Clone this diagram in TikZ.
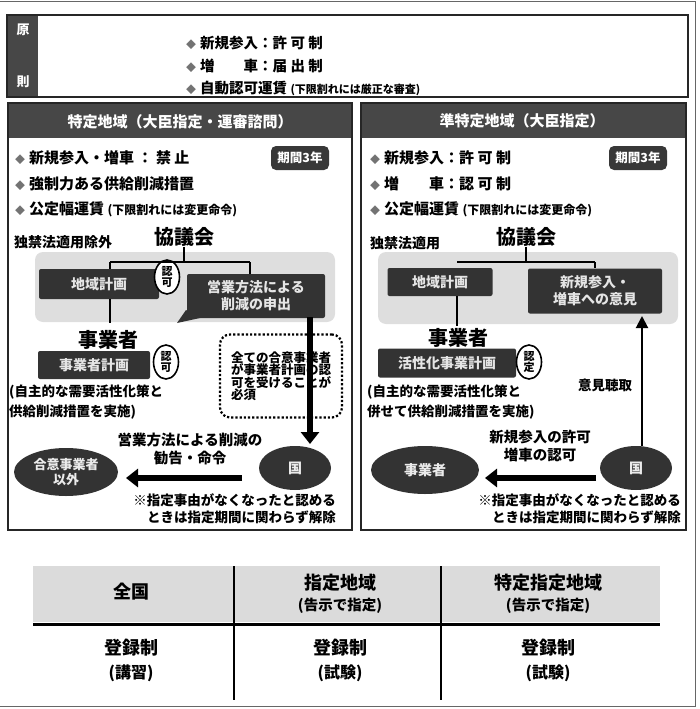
\documentclass[tikz,border=0pt]{standalone}
\usepackage{fontspec}
\setmainfont{Noto Sans CJK JP}
\usetikzlibrary{shapes.geometric,arrows.meta,calc}
\newcommand{\myfs}[1]{\fontsize{#1}{#1}\selectfont}
\newcommand{\dia}{{\color{black!55}\myfs{10}◆}\hspace{4pt}}
\tikzset{
  darkbox/.style={fill=black!80, text=black!10, rounded corners=2pt, inner sep=2pt, align=center, font=\bfseries\myfs{14}},
  hdrbar/.style={fill=black!72},
  badge/.style={fill=black!78, text=white, rounded corners=5pt, minimum width=58pt, minimum height=24pt, inner sep=1pt, font=\bfseries\myfs{12.5}},
  ovalmark/.style={draw, line width=1.6pt, fill=white, ellipse, inner sep=0pt, minimum width=25pt, minimum height=34pt, align=center, font=\bfseries\myfs{11}},
  darkell/.style={ellipse, fill=black!80, text=black!8, align=center, inner sep=0pt, font=\bfseries\myfs{14}},
  bigarrow/.style={line width=6pt, -{Triangle[length=12pt,width=18pt]}},
  thinarrow/.style={line width=2pt, -{Triangle[length=12pt,width=12pt]}},
  conn/.style={line width=1.6pt},
  frame/.style={line width=1.2pt, draw=black!85},
  bul/.style={anchor=west, inner sep=0pt, font=\bfseries\myfs{15}},
  txt/.style={inner sep=0pt, align=center},
  graybg/.style={fill=black!13, rounded corners=8pt},
}
\begin{document}
\begin{tikzpicture}[x=1pt,y=-1pt]
\useasboundingbox (0,0) rectangle (699,709);
% page frame
\draw[black!60, line width=1pt] (0,2) -- (695,2) -- (695,706) -- (0,706);

% ---------- top box ----------
\draw[frame] (7,15) rectangle (688,97);
\fill[black!72] (8,16) rectangle (38,96);
\node[txt, text=white, font=\bfseries\myfs{13}] (gen) at (23,30) {原};
\node[txt, text=white, font=\bfseries\myfs{13}] (soku) at (23,82) {則};
\node[bul, font=\bfseries\myfs{14.5}] (t1) at (186,43) {\dia 新規参入：許 可 制};
\node[bul, font=\bfseries\myfs{14.5}] (t2) at (186,66) {\dia 増　　車：届 出 制};
\node[bul, font=\bfseries\myfs{14.5}] (t3) at (186,88) {\dia 自動認可運賃 {\myfs{11}(下限割れには厳正な審査)}};

% ---------- left panel ----------
\draw[frame] (8,103) rectangle (352,530);
\fill[hdrbar] (9,104) rectangle (351,138);
\node[txt, text=white, font=\bfseries\myfs{15}] (h1) at (180,122) {特定地域（大臣指定・運審諮問）};
\node[bul] (l1) at (15,158) {\dia 新規参入・増車 ： 禁 止};
\node[bul] (l2) at (15,184) {\dia 強制力ある供給削減措置};
\node[bul] (l3) at (15,209) {\dia 公定幅運賃 {\myfs{12}(下限割れには変更命令)}};
\node[badge] (b1) at (300,158) {期間3年};

\fill[graybg] (35,252) rectangle (335,322);
\node[anchor=west, inner sep=0pt, font=\bfseries\myfs{14}] (dk1) at (14,242) {独禁法適用除外};
\node[txt, font=\bfseries\myfs{20}] (kyo1) at (184,237) {協議会};
\coordinate (j1) at (184,262);
\coordinate (j1l) at (110,262);
\coordinate (j1r) at (250,262);
\node[darkbox, minimum width=120pt, minimum height=30pt] (chiiki1) at (99,284) {地域計画};
\node[darkbox, minimum width=138pt, minimum height=44pt] (moshide) at (256,296) {営業方法による\\[3pt]削減の申出};
\fill[black!80] (186,310) -- (200,318) -- (177,323) -- cycle;
\node[ovalmark] (nin1) at (167,277) {認\\可};
\draw[conn] (kyo1.south) -- (j1);
\draw[conn] (j1l) -- (j1r);
\draw[conn] (j1l) -- (j1l |- chiiki1.north);
\draw[conn] (j1r) -- (j1r |- moshide.north);
\coordinate (c1a) at (110,299);
\coordinate (c1b) at (110,323);
\draw[conn] (c1a) -- (c1b);

\node[txt, font=\bfseries\myfs{20}] (jig1) at (108,340) {事業者};
\node[darkbox, minimum width=112pt, minimum height=28pt] (kk1) at (94,365) {事業者計画};
\node[ovalmark] (nin2) at (166,362) {認\\可};
\node[anchor=west, inner sep=0pt, font=\bfseries\myfs{13.5}] (p1) at (9,392) {(自主的な需要活性化策と};
\node[anchor=west, inner sep=0pt, font=\bfseries\myfs{13.5}] (p2) at (9,412) {供給削減措置を実施)};

\node[draw, dotted, line width=2.2pt, rounded corners=10pt, minimum width=122pt, minimum height=83pt, align=left, inner sep=4pt, font=\bfseries\myfs{12.5}] (dot1) at (281,376) {全ての合意事業者\\が事業者計画の認\\可を受けることが\\必須};

\node[darkell, minimum width=72pt, minimum height=44pt] (kuni1) at (295,468) {国};
\node[darkell, minimum width=104pt, minimum height=48pt, font=\bfseries\myfs{13}] (goui) at (66,472) {合意事業者\\[2pt]以外};
\coordinate (a1s) at (310,317);
\coordinate (a1e) at (310,444);
\draw[bigarrow] (a1s) -- (a1e);
\node[txt, font=\bfseries\myfs{14.5}] (lab1) at (190,449) {営業方法による削減の\\[4pt]勧告・命令};
\coordinate (a2s) at (242,478);
\coordinate (a2e) at (126,478);
\draw[bigarrow] (a2s) -- (a2e);
\node[anchor=east, inner sep=0pt, font=\bfseries\myfs{13.5}] (n1a) at (336,500) {※指定事由がなくなったと認める};
\node[anchor=east, inner sep=0pt, font=\bfseries\myfs{13.5}] (n1b) at (336,517) {ときは指定期間に関わらず解除};

% ---------- right panel ----------
\draw[frame] (361,103) rectangle (686,530);
\fill[hdrbar] (362,104) rectangle (685,138);
\node[txt, text=white, font=\bfseries\myfs{15}] (h2) at (522,121) {準特定地域（大臣指定）};
\node[bul] (r1) at (370,158) {\dia 新規参入：許 可 制};
\node[bul] (r2) at (370,184) {\dia 増　　車：認 可 制};
\node[bul] (r3) at (370,209) {\dia 公定幅運賃 {\myfs{12}(下限割れには変更命令)}};
\node[badge] (b2) at (638,158) {期間3年};

\fill[graybg] (378,252) rectangle (678,324);
\node[anchor=west, inner sep=0pt, font=\bfseries\myfs{14}] (dk2) at (370,243) {独禁法適用};
\node[txt, font=\bfseries\myfs{20}] (kyo2) at (526,237) {協議会};
\coordinate (j2) at (526,262);
\coordinate (j2l) at (457,262);
\coordinate (j2r) at (595,262);
\node[darkbox, minimum width=105pt, minimum height=28pt] (chiiki2) at (440,282) {地域計画};
\node[darkbox, minimum width=134pt, minimum height=45pt] (iken) at (595,291) {新規参入・\\[3pt]増車への意見};
\draw[conn] (kyo2.south) -- (j2);
\draw[conn] (j2l) -- (j2r);
\draw[conn] (j2r) -- (j2r |- iken.north);
\coordinate (c2a) at (457,296);
\coordinate (c2b) at (457,326);
\draw[conn] (c2a) -- (c2b);

\node[txt, font=\bfseries\myfs{20}] (jig2) at (458,338) {事業者};
\node[darkbox, minimum width=138pt, minimum height=29pt] (katsu) at (447,363) {活性化事業計画};
\node[ovalmark] (nintei) at (529,362) {認\\定};
\node[anchor=west, inner sep=0pt, font=\bfseries\myfs{13.5}] (q1) at (367,392) {(自主的な需要活性化策と};
\node[anchor=west, inner sep=0pt, font=\bfseries\myfs{13.5}] (q2) at (367,412) {併せて供給削減措置を実施)};

\node[darkell, minimum width=72pt, minimum height=44pt] (kuni2) at (636,468) {国};
\node[darkell, minimum width=108pt, minimum height=48pt] (jig3) at (425,470) {事業者};
\coordinate (a3s) at (642,446);
\coordinate (a3e) at (642,316);
\draw[thinarrow] (a3s) -- (a3e);
\node[txt, font=\bfseries\myfs{13.5}] (ikc) at (605,385) {意見聴取};
\node[txt, font=\bfseries\myfs{14.5}] (lab2) at (540,446) {新規参入の許可\\[4pt]増車の認可};
\coordinate (a4s) at (596,478);
\coordinate (a4e) at (485,478);
\draw[bigarrow] (a4s) -- (a4e);
\node[anchor=east, inner sep=0pt, font=\bfseries\myfs{13.5}] (n2a) at (681,500) {※指定事由がなくなったと認める};
\node[anchor=east, inner sep=0pt, font=\bfseries\myfs{13.5}] (n2b) at (681,517) {ときは指定期間に関わらず解除};

% ---------- bottom table ----------
\fill[black!14] (33,566) rectangle (660,622);
\draw[line width=3pt] (33,624) -- (660,624);
\draw[line width=1.6pt] (234,566) -- (234,700);
\draw[line width=1.6pt] (441,566) -- (441,700);
\node[txt, font=\bfseries\myfs{18}] (c1) at (131,592) {全国};
\node[txt, font=\bfseries\myfs{18}] (c2) at (340,583) {指定地域};
\node[txt, font=\bfseries\myfs{14.5}] (c2b) at (340,606) {(告示で指定)};
\node[txt, font=\bfseries\myfs{18}] (c3) at (548,583) {特定指定地域};
\node[txt, font=\bfseries\myfs{14.5}] (c3b) at (548,606) {(告示で指定)};
\node[txt, font=\bfseries\myfs{18}] (d1) at (131,648) {登録制};
\node[txt, font=\bfseries\myfs{16}] (d1b) at (131,673) {(講習)};
\node[txt, font=\bfseries\myfs{18}] (d2) at (340,648) {登録制};
\node[txt, font=\bfseries\myfs{16}] (d2b) at (340,673) {(試験)};
\node[txt, font=\bfseries\myfs{18}] (d3) at (548,648) {登録制};
\node[txt, font=\bfseries\myfs{16}] (d3b) at (548,673) {(試験)};
\end{tikzpicture}
\end{document}
